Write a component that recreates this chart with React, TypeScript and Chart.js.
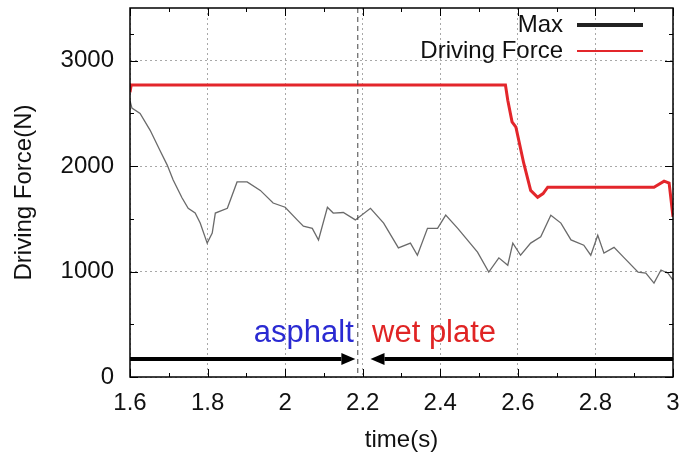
import React, { useEffect, useRef } from 'react';
import { Chart, registerables } from 'chart.js';

Chart.register(...registerables);

// ---- data ----
const maxTime = [1.6, 1.605, 1.626, 1.652, 1.677, 1.696, 1.711, 1.734, 1.75, 1.768, 1.781, 1.799, 1.812, 1.82, 1.851, 1.876, 1.902, 1.936, 1.969, 2.0, 2.031, 2.047, 2.07, 2.086, 2.109, 2.124, 2.15, 2.181, 2.22, 2.254, 2.292, 2.323, 2.341, 2.367, 2.393, 2.414, 2.445, 2.496, 2.525, 2.551, 2.574, 2.587, 2.607, 2.633, 2.659, 2.685, 2.711, 2.737, 2.77, 2.788, 2.806, 2.822, 2.848, 2.873, 2.91, 2.93, 2.951, 2.969, 2.987, 3.0];
const maxForce = [2620, 2550, 2500, 2340, 2150, 2010, 1870, 1700, 1600, 1555, 1460, 1270, 1365, 1555, 1600, 1850, 1850, 1770, 1650, 1610, 1490, 1430, 1410, 1300, 1610, 1555, 1560, 1490, 1600, 1460, 1225, 1270, 1155, 1410, 1410, 1535, 1410, 1185, 995, 1130, 1060, 1270, 1155, 1270, 1330, 1535, 1460, 1300, 1250, 1155, 1345, 1175, 1230, 1135, 995, 985, 890, 1015, 985, 920];

const driveTime = [1.6, 1.603, 2.568, 2.574, 2.585, 2.595, 2.615, 2.633, 2.651, 2.665, 2.677, 2.951, 2.977, 2.99, 3.0];
const driveForce = [2700, 2770, 2770, 2625, 2420, 2370, 2030, 1770, 1705, 1740, 1800, 1800, 1858, 1840, 1520];

const xTickLabels = ['1.6', '1.8', '2', '2.2', '2.4', '2.6', '2.8', '3'];
const yTickValues = [0, 1000, 2000, 3000];
const seriesNames = ['Max', 'Driving Force'];
const regionNames = ['asphalt', 'wet plate'];
const boundaryTime = 2.186;
const arrowLevel = 170;
const asphaltArrowEnd = 2.181;
const wetArrowEnd = 2.22;
const regionLabelLevel = 415;
const asphaltLabelEnd = 2.177;
const wetLabelStart = 2.224;

const FONT = '"Liberation Sans", Arial, Helvetica, sans-serif';
const RED = '#e3262b';
const GREY = '#6a6a6a';

const overlay = {
  id: 'overlay',
  afterDatasetsDraw(chart: any) {
    const { ctx, chartArea: a, scales } = chart;
    const x = scales.x;
    const y = scales.y;
    ctx.save();

    // boundary dashed line
    const bx = x.getPixelForValue(boundaryTime);
    ctx.strokeStyle = '#444';
    ctx.lineWidth = 1;
    ctx.setLineDash([5, 4]);
    ctx.beginPath();
    ctx.moveTo(bx + 0.5, a.top);
    ctx.lineTo(bx + 0.5, a.bottom);
    ctx.stroke();
    ctx.setLineDash([]);

    // inward ticks (major + minor), mirrored
    ctx.strokeStyle = '#000';
    ctx.lineWidth = 1;
    const xt = x.ticks.map((t: any) => t.value);
    const yt = y.ticks.map((t: any) => t.value);
    const drawX = (v: number, len: number) => {
      const px = Math.round(x.getPixelForValue(v)) + 0.5;
      ctx.beginPath();
      ctx.moveTo(px, a.bottom);
      ctx.lineTo(px, a.bottom - len);
      ctx.moveTo(px, a.top);
      ctx.lineTo(px, a.top + len);
      ctx.stroke();
    };
    const drawY = (v: number, len: number) => {
      const py = Math.round(y.getPixelForValue(v)) + 0.5;
      ctx.beginPath();
      ctx.moveTo(a.left, py);
      ctx.lineTo(a.left + len, py);
      ctx.moveTo(a.right, py);
      ctx.lineTo(a.right - len, py);
      ctx.stroke();
    };
    xt.forEach((v: number, i: number) => {
      drawX(v, 8);
      if (i < xt.length - 1) drawX((v + xt[i + 1]) / 2, 4);
    });
    yt.forEach((v: number, i: number) => {
      drawY(v, 8);
      const next = i < yt.length - 1 ? yt[i + 1] : y.max;
      if (next > v) drawY((v + next) / 2, 4);
    });

    // frame
    ctx.strokeStyle = '#000';
    ctx.lineWidth = 1.5;
    ctx.strokeRect(a.left, a.top, a.right - a.left, a.bottom - a.top);

    // arrows
    const ay = y.getPixelForValue(arrowLevel);
    const arrow = (from: number, to: number) => {
      const x0 = x.getPixelForValue(from);
      const x1 = x.getPixelForValue(to);
      const dir = x1 > x0 ? 1 : -1;
      const head = 14;
      ctx.strokeStyle = '#000';
      ctx.fillStyle = '#000';
      ctx.lineWidth = 4;
      ctx.beginPath();
      ctx.moveTo(x0, ay);
      ctx.lineTo(x1 - dir * head, ay);
      ctx.stroke();
      ctx.beginPath();
      ctx.moveTo(x1, ay);
      ctx.lineTo(x1 - dir * head, ay - 6);
      ctx.lineTo(x1 - dir * head, ay + 6);
      ctx.closePath();
      ctx.fill();
    };
    arrow(x.min, asphaltArrowEnd);
    arrow(x.max, wetArrowEnd);

    // region labels
    const ly = y.getPixelForValue(regionLabelLevel);
    ctx.font = `31px ${FONT}`;
    ctx.textBaseline = 'middle';
    ctx.textAlign = 'right';
    ctx.fillStyle = '#2a2ad2';
    ctx.fillText(regionNames[0], x.getPixelForValue(asphaltLabelEnd), ly);
    ctx.textAlign = 'left';
    ctx.fillStyle = '#e02424';
    ctx.fillText(regionNames[1], x.getPixelForValue(wetLabelStart), ly);

    // legend
    ctx.font = `24px ${FONT}`;
    ctx.textAlign = 'right';
    ctx.fillStyle = '#111';
    const lx = a.right - 110;
    const rows = [a.top + 17, a.top + 43];
    ctx.fillText(seriesNames[0], lx, rows[0]);
    ctx.fillText(seriesNames[1], lx, rows[1]);
    ctx.lineWidth = 4;
    ctx.strokeStyle = '#222';
    ctx.beginPath();
    ctx.moveTo(lx + 14, rows[0]);
    ctx.lineTo(lx + 80, rows[0]);
    ctx.stroke();
    ctx.lineWidth = 2;
    ctx.strokeStyle = RED;
    ctx.beginPath();
    ctx.moveTo(lx + 14, rows[1]);
    ctx.lineTo(lx + 80, rows[1]);
    ctx.stroke();

    ctx.restore();
  },
};

export default function App() {
  const ref = useRef<HTMLCanvasElement | null>(null);

  useEffect(() => {
    if (!ref.current) return;
    const chart = new Chart(ref.current, {
      type: 'line',
      data: {
        datasets: [
          {
            label: seriesNames[0],
            data: maxTime.map((t, i) => ({ x: t, y: maxForce[i] })),
            borderColor: GREY,
            borderWidth: 1.3,
            pointRadius: 0,
            tension: 0,
          },
          {
            label: seriesNames[1],
            data: driveTime.map((t, i) => ({ x: t, y: driveForce[i] })),
            borderColor: RED,
            borderWidth: 3,
            pointRadius: 0,
            tension: 0,
          },
        ],
      },
      options: {
        animation: false,
        responsive: false,
        devicePixelRatio: 1,
        layout: { padding: { left: 0, right: 9, top: 8, bottom: 0 } },
        plugins: { legend: { display: false }, tooltip: { enabled: false } },
        scales: {
          x: {
            type: 'linear',
            min: 1.6,
            max: 3,
            afterFit: (s: any) => {
              s.height = 78;
              s.paddingLeft = 0;
              s.paddingRight = 0;
            },
            ticks: {
              stepSize: 0.2,
              padding: 12,
              color: '#111',
              font: { family: FONT, size: 24 },
              maxRotation: 0,
              autoSkip: false,
              callback: (_v: any, i: number) => xTickLabels[i],
            },
            grid: { color: '#a8a8a8', lineWidth: 1, drawTicks: false },
            border: { display: false, dash: [2, 3] },
            title: {
              display: true,
              text: 'time(s)',
              color: '#111',
              font: { family: FONT, size: 24 },
              padding: { top: 0, bottom: 0 },
            },
          },
          y: {
            type: 'linear',
            min: 0,
            max: 3500,
            afterFit: (s: any) => {
              s.width = 130;
              s.paddingTop = 0;
              s.paddingBottom = 0;
            },
            afterBuildTicks: (s: any) => {
              s.ticks = yTickValues.map((v) => ({ value: v }));
            },
            ticks: {
              padding: 16,
              color: '#111',
              font: { family: FONT, size: 24 },
              callback: (v: any) => String(v),
            },
            grid: { color: '#a8a8a8', lineWidth: 1, drawTicks: false },
            border: { display: false, dash: [2, 3] },
            title: {
              display: true,
              text: 'Driving Force(N)',
              color: '#111',
              font: { family: FONT, size: 24 },
              padding: { top: 10, bottom: 0 },
            },
          },
        },
      },
      plugins: [overlay],
    });
    return () => chart.destroy();
  }, []);

  return (
    <div style={{ position: 'fixed', left: 0, top: 0, width: 682, height: 455, background: '#fff' }}>
      <canvas ref={ref} width={682} height={455} style={{ display: 'block', width: 682, height: 455 }} />
    </div>
  );
}
